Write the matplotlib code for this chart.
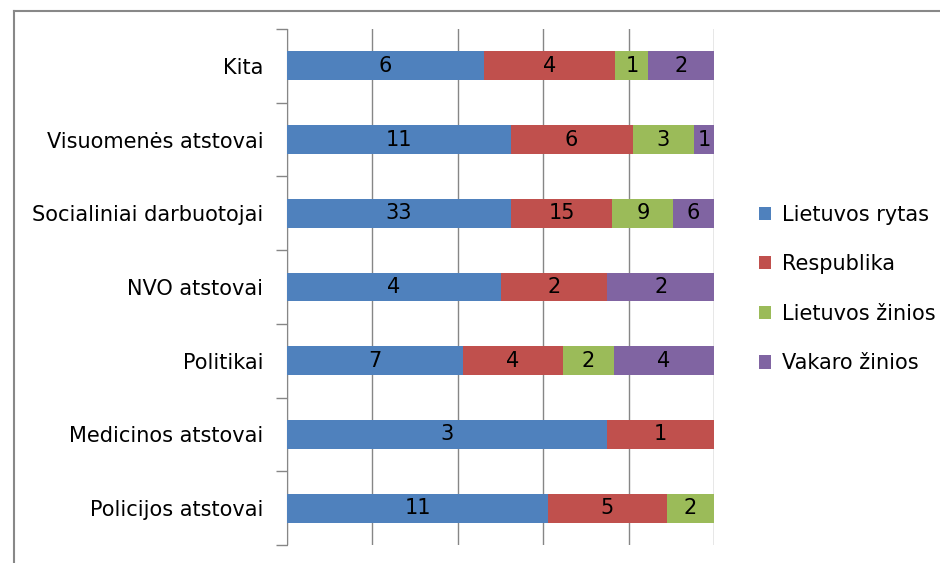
import numpy as np
import matplotlib.pyplot as plt
from matplotlib.lines import Line2D

categories = ["Kita", "Visuomenės atstovai", "Socialiniai darbuotojai",
              "NVO atstovai", "Politikai", "Medicinos atstovai",
              "Policijos atstovai"]
series = ["Lietuvos rytas", "Respublika", "Lietuvos žinios", "Vakaro žinios"]
lietuvos_rytas = [6, 11, 33, 4, 7, 3, 11]
respublika = [4, 6, 15, 2, 4, 1, 5]
lietuvos_zinios = [1, 3, 9, 0, 2, 0, 2]
vakaro_zinios = [2, 1, 6, 2, 4, 0, 0]
colors = ["#4F81BD", "#C0504D", "#9BBB59", "#8064A2"]

plt.rcParams["font.family"] = ["DejaVu Sans"]

data = np.array([lietuvos_rytas, respublika, lietuvos_zinios, vakaro_zinios], dtype=float)
totals = data.sum(axis=0)
shares = data / totals

fig = plt.figure(figsize=(9.4, 5.63), dpi=100)
ax = fig.add_axes([287 / 940, 1 - 545 / 563, (714 - 287) / 940, (545 - 29) / 563])

y = np.arange(len(categories))[::-1]
left = np.zeros(len(categories))
for i, name in enumerate(series):
    ax.barh(y, shares[i], left=left, height=0.39, color=colors[i], label=name, zorder=3)
    for j in range(len(categories)):
        if data[i, j] > 0:
            ax.text(left[j] + shares[i, j] / 2, y[j], f"{int(data[i, j])}",
                    ha="center", va="center", fontsize=15, color="black", zorder=4)
    left += shares[i]

ax.set_xlim(0, 1)
ax.set_ylim(-0.5, len(categories) - 0.5)
ax.set_xticks(np.linspace(0, 1, 6))
ax.tick_params(axis="x", length=0, labelbottom=False)
ax.grid(axis="x", color="#868686", linewidth=1, zorder=0)

ax.set_yticks(y)
ax.set_yticklabels(categories, fontsize=15)
ax.set_yticks(np.arange(-0.5, len(categories), 1), minor=True)
ax.tick_params(axis="y", which="major", length=0, pad=17)
ax.tick_params(axis="y", which="minor", length=8, color="#868686", width=1)

for s in ["top", "right", "bottom"]:
    ax.spines[s].set_visible(False)
ax.spines["left"].set_color("#868686")

leg = ax.legend(loc="center left", bbox_to_anchor=(740 / 940, 1 - 289 / 563),
                bbox_transform=fig.transFigure, frameon=False, fontsize=15,
                handlelength=0.6, handleheight=0.6, handletextpad=0.5,
                labelspacing=1.42)

# outer chart frame
fig.add_artist(Line2D([14 / 940, 1], [1 - 11 / 563, 1 - 11 / 563],
                      transform=fig.transFigure, color="#888888", linewidth=1.5))
fig.add_artist(Line2D([14 / 940, 14 / 940], [0, 1 - 11 / 563],
                      transform=fig.transFigure, color="#888888", linewidth=1.5))

fig.savefig("out.png", dpi=100)
